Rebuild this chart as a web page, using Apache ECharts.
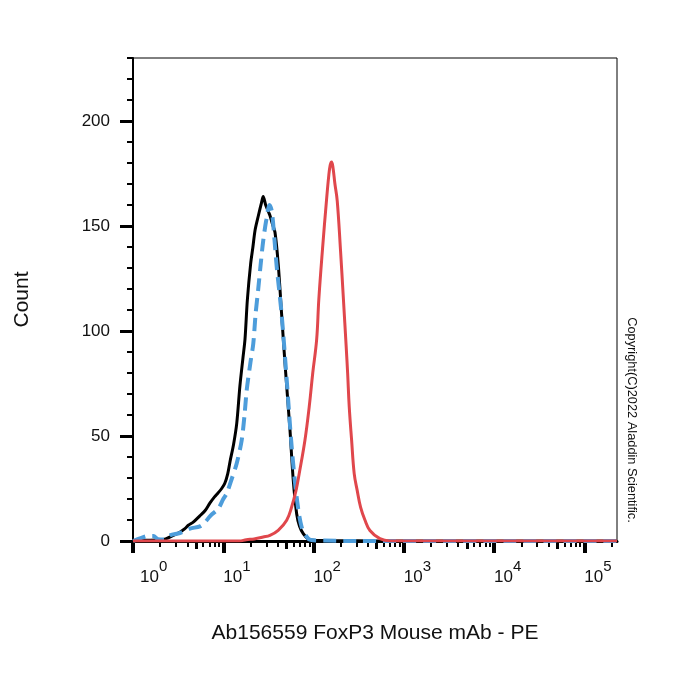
<!DOCTYPE html>
<html>
<head>
<meta charset="utf-8">
<script src="https://cdn.jsdelivr.net/npm/echarts@6/dist/echarts.min.js"></script>
<style>
  html, body { margin: 0; padding: 0; background: #fff; }
  #chart { width: 700px; height: 700px; }
</style>
</head>
<body>
<div id="chart"></div>
<script>
// intensity values (log scale) and counts
const blackX = [1.0, 1.3, 1.8, 2.17, 2.8, 3.3, 3.76, 4.1, 4.65, 5.5, 6.3, 7.1, 8.0, 8.8, 9.6, 10.4, 11.2, 11.9, 13.0, 14.1, 15.3, 16.5, 17.4, 18.5, 20.1, 21.3, 22.5, 24.5, 26.5, 27.7, 29.5, 31.5, 32.9, 35, 37.4, 40.6, 44.3, 48.2, 54.8, 59.6, 65, 70, 76.9, 87, 99, 130, 300, 1000, 230000];
const blackY = [0, 0.3, 0.5, 0.7, 2.7, 4.2, 5.9, 7.5, 9, 12, 14.5, 18, 21, 23, 25, 27.5, 32, 38, 46, 56, 74, 87, 96, 115, 132, 140, 148, 155, 161, 164, 160, 157, 155, 151, 147, 132, 108, 85, 53, 29, 13, 7, 3.5, 1, 0.3, 0.2, 0.1, 0, 0];

const blueX = [1.0, 1.19, 1.48, 1.68, 1.9, 2.2, 2.57, 3.31, 4.28, 5.52, 6.3, 7.2, 8.8, 10.0, 10.9, 12.5, 14.1, 16.0, 17.2, 18.2, 20.0, 21.5, 22.8, 24.4, 26, 27.7, 30, 32.5, 34.5, 37, 39, 44.3, 50.4, 57.2, 65, 73.8, 87.3, 100, 130, 300, 230000];
const blueY = [0, 1.2, 2.4, 2.4, 0.8, 0.7, 2.7, 3.8, 5.9, 7, 9, 12, 15.4, 20, 22.6, 30, 37, 48, 60, 72, 85, 94, 108, 120, 132, 143, 153, 160, 157, 143, 131, 108, 77, 45, 21, 6.7, 1.1, 0.3, 0.2, 0, 0];

const redX = [1, 15, 18, 22, 27.7, 32.9, 40.6, 50.4, 57.2, 63.9, 69.5, 80.3, 89.6, 98, 108.3, 114.4, 125.7, 139, 147.5, 153, 158.6, 164, 172.6, 183, 198.6, 214.4, 229.6, 238.6, 248.5, 264.1, 282.4, 304.8, 332.4, 370.9, 421.5, 543, 701, 230000];
const redY = [0, 0, 0.6, 1, 1.9, 2.7, 5.1, 9.9, 16.2, 24, 32.3, 48, 64, 80, 96, 115, 139, 162, 174, 179, 180.5, 178, 170, 162, 139, 115, 93, 80, 64, 48, 32, 24, 16, 10, 5, 1.1, 0, 0];

// axis ticks
const xMajorTicks = [1, 10, 100, 1000, 10000, 100000];
const xMidTicks = [5, 50, 500, 5000, 50000];
const xMinorMantissa = [2, 3, 4, 6, 7, 8, 9];
const yMajorTicks = [0, 50, 100, 150, 200];
const yMinorTicks = [10, 20, 30, 40, 60, 70, 80, 90, 110, 120, 130, 140, 160, 170, 180, 190, 210, 220, 230];

const xMinorTicks = [];
xMajorTicks.forEach((d) => {
  xMinorMantissa.forEach((m) => {
    if (m * d <= 230000) xMinorTicks.push(m * d);
  });
});

const zip = (xs, ys) => xs.map((x, i) => [x, ys[i]]);

const FONT = 'Liberation Sans, Arial, sans-serif';
const X_MIN = 1;
const X_MAX = 230000;

function logAxis(extra) {
  return Object.assign({
    type: 'log',
    logBase: 10,
    min: X_MIN,
    max: X_MAX,
    position: 'bottom',
    gridIndex: 0,
    splitLine: { show: false },
    minorTick: { show: false },
    axisLine: { show: false },
    axisLabel: { show: false },
  }, extra);
}

const chart = echarts.init(document.getElementById('chart'));

chart.setOption({
  animation: false,
  backgroundColor: '#fff',
  textStyle: { fontFamily: FONT },
  grid: {
    left: 133,
    right: 83,
    top: 58,
    bottom: 159,
    show: true,
    borderColor: '#000',
    borderWidth: 1,
    containLabel: false,
    outerBoundsMode: 'none',
  },
  xAxis: [
    logAxis({
      axisLine: { show: true, onZero: false, lineStyle: { color: '#000', width: 3 } },
      axisTick: { show: true, length: 12, customValues: xMajorTicks, lineStyle: { color: '#000', width: 4 } },
      axisLabel: {
        show: true,
        customValues: xMajorTicks,
        align: 'left',
        verticalAlign: 'top',
        margin: 28,
        formatter: (v) => {
          const e = Math.round(Math.log10(v));
          return (e === 0 ? '{p|}' : '') + '{b|10}{s|' + e + '}';
        },
        rich: {
          p: { width: 7 },
          b: { fontSize: 17, lineHeight: 17, color: '#111', fontFamily: FONT },
          s: { fontSize: 15, lineHeight: 15, padding: [0, 0, 22, 0], color: '#111', fontFamily: FONT },
        },
      },
      name: 'Ab156559 FoxP3 Mouse mAb - PE',
      nameLocation: 'middle',
      nameGap: 82,
      nameTextStyle: { fontSize: 21, color: '#111', fontFamily: FONT },
    }),
    logAxis({
      axisTick: { show: true, length: 8, customValues: xMidTicks, lineStyle: { color: '#000', width: 3 } },
    }),
    logAxis({
      axisTick: { show: true, length: 6, customValues: xMinorTicks, lineStyle: { color: '#000', width: 2 } },
    }),
  ],
  yAxis: [
    {
      type: 'value',
      min: 0,
      max: 230,
      position: 'left',
      splitLine: { show: false },
      axisLine: { show: true, onZero: false, lineStyle: { color: '#000', width: 2 } },
      axisTick: { show: true, length: 13, customValues: yMajorTicks, lineStyle: { color: '#000', width: 3 } },
      axisLabel: { customValues: yMajorTicks, fontSize: 17, color: '#111', margin: 23, fontFamily: FONT },
      name: 'Count',
      nameLocation: 'middle',
      nameGap: 100,
      nameTextStyle: { fontSize: 21, color: '#111', fontFamily: FONT },
    },
    {
      type: 'value',
      min: 0,
      max: 230,
      position: 'left',
      splitLine: { show: false },
      axisLine: { show: false },
      axisTick: { show: true, length: 6, customValues: yMinorTicks, lineStyle: { color: '#000', width: 2 } },
      axisLabel: { show: false },
    },
  ],
  series: [
    {
      name: 'isotype',
      type: 'line',
      data: zip(blackX, blackY),
      showSymbol: false,
      smooth: 0.3,
      lineStyle: { color: '#000', width: 3 },
      z: 2,
    },
    {
      name: 'unstained',
      type: 'line',
      data: zip(blueX, blueY),
      showSymbol: false,
      smooth: 0.3,
      lineStyle: { color: '#4d9ddb', width: 4, type: [13, 7] },
      z: 3,
    },
    {
      name: 'FoxP3',
      type: 'line',
      data: zip(redX, redY),
      showSymbol: false,
      smooth: 0.4,
      lineStyle: { color: '#e0474c', width: 3 },
      z: 4,
    },
  ],
  graphic: [
    {
      type: 'text',
      x: 632,
      y: 420,
      rotation: -Math.PI / 2,
      style: {
        text: 'Copyright(C)2022 Aladdin Scientific.',
        fontSize: 12.8,
        fontFamily: FONT,
        fill: '#111',
        align: 'center',
        verticalAlign: 'middle',
      },
    },
  ],
});
</script>
</body>
</html>
